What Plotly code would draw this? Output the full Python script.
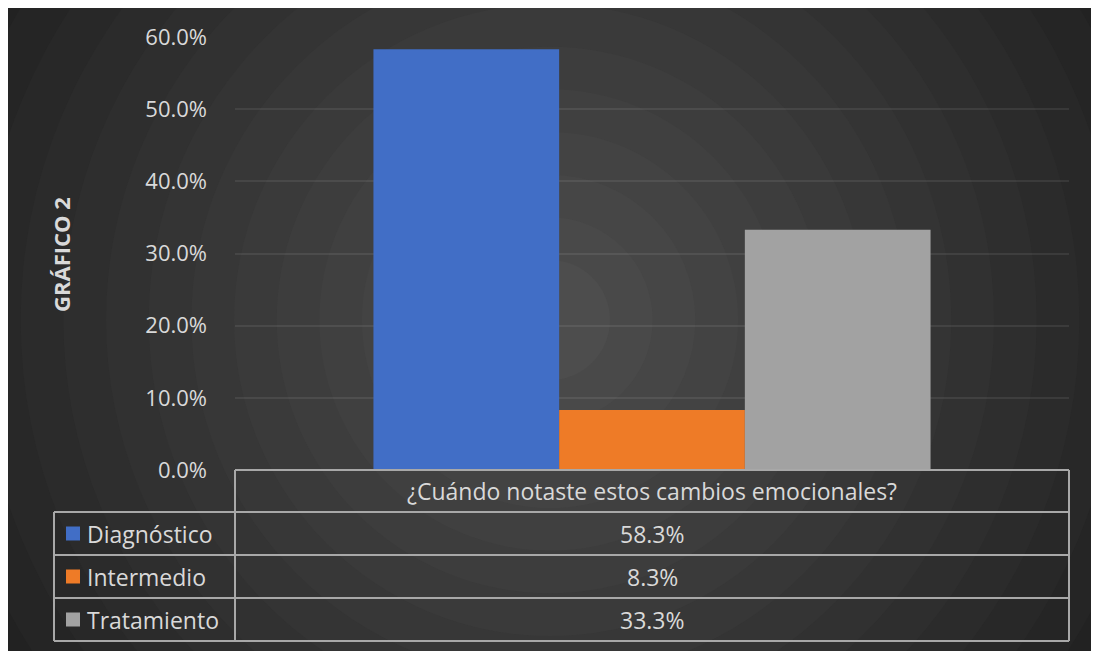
import plotly.graph_objects as go

# ---- data ----
category = ["¿Cuándo notaste estos cambios emocionales?"]
series_names = ["Diagnóstico", "Intermedio", "Tratamiento"]
series_values = [0.583, 0.083, 0.333]
series_colors = ["#416ec6", "#ee7b27", "#a2a2a2"]
y_tick_vals = [0, 0.1, 0.2, 0.3, 0.4, 0.5, 0.6]
chart_title = "GRÁFICO 2"

# page body margin offset (screen px)
OFF = 8
W, H = 1099 - 2 * OFF, 659 - 2 * OFF
# plot area in screen coordinates
SX0, SX1, SY0, SY1 = 235, 1069, 37, 470
L = SX0 - OFF
R = W - (SX1 - OFF)
T = SY0 - OFF
B = H - (SY1 - OFF)
PW, PH = W - L - R, H - T - B


def px(sx):
    return (sx - SX0) / PW


def py(sy):
    return (SY1 - sy) / PH


fig = go.Figure()
for name, val, col in zip(series_names, series_values, series_colors):
    fig.add_trace(go.Bar(x=category, y=[val], name=name,
                         marker=dict(color=col, line=dict(width=0)),
                         showlegend=False))

shapes = []
# background radial-like rings
cx, cy = px(550), py(320)
n = 16
r_max = 700
for i in range(n):
    r = r_max - i * (r_max - 60) / (n - 1)
    t = i / (n - 1)
    v = int(0x1f + (0x4d - 0x1f) * t)
    shapes.append(dict(type="circle", xref="paper", yref="paper",
                       xsizemode="pixel", ysizemode="pixel",
                       xanchor=cx, yanchor=cy,
                       x0=-r, x1=r, y0=-r, y1=r,
                       fillcolor=f"rgb({v},{v},{v})", line=dict(width=0),
                       layer="below"))

# data table lines
lc = "#a8a8a8"
lw = 2
row_tops = [470, 512, 555, 598, 641]
shapes.append(dict(type="line", xref="paper", yref="paper",
                   x0=px(235), x1=px(1069), y0=py(470), y1=py(470),
                   line=dict(color=lc, width=lw), layer="above"))
for yp in row_tops[1:]:
    shapes.append(dict(type="line", xref="paper", yref="paper",
                       x0=px(54), x1=px(1069), y0=py(yp), y1=py(yp),
                       line=dict(color=lc, width=lw), layer="above"))
for xp, ytop in [(235, 470), (1069, 470), (54, 512)]:
    shapes.append(dict(type="line", xref="paper", yref="paper",
                       x0=px(xp), x1=px(xp), y0=py(ytop), y1=py(641),
                       line=dict(color=lc, width=lw), layer="above"))

txt_col = "#d9d9d9"
font_fam = "Open Sans"
tsize = 23
annotations = []
annotations.append(dict(text=category[0], xref="paper", yref="paper",
                        x=px(652), y=py(491), xanchor="center", yanchor="middle",
                        showarrow=False,
                        font=dict(family=font_fam, size=tsize, color=txt_col)))
for i, (name, val, col) in enumerate(zip(series_names, series_values, series_colors)):
    yc = (row_tops[i + 1] + row_tops[i + 2]) / 2
    shapes.append(dict(type="rect", xref="paper", yref="paper",
                       x0=px(66), x1=px(80), y0=py(yc + 7), y1=py(yc - 7),
                       fillcolor=col, line=dict(width=0), layer="above"))
    annotations.append(dict(text=name, xref="paper", yref="paper",
                            x=px(85), y=py(yc), xanchor="left", yanchor="middle",
                            showarrow=False,
                            font=dict(family=font_fam, size=tsize, color=txt_col)))
    annotations.append(dict(text=f"{val*100:.1f}%", xref="paper", yref="paper",
                            x=px(652), y=py(yc), xanchor="center", yanchor="middle",
                            showarrow=False,
                            font=dict(family=font_fam, size=tsize, color=txt_col)))
annotations.append(dict(text=f"<b>{chart_title}</b>", xref="paper", yref="paper",
                        x=px(61), y=py(255), xanchor="center", yanchor="middle",
                        textangle=-90, showarrow=False,
                        font=dict(family=font_fam, size=22, color=txt_col)))

fig.update_layout(
    width=W, height=H,
    margin=dict(l=L, r=R, t=T, b=B, pad=0),
    paper_bgcolor="#262626",
    plot_bgcolor="rgba(0,0,0,0)",
    barmode="group", bargap=0.332, bargroupgap=0,
    shapes=shapes, annotations=annotations,
    xaxis=dict(showticklabels=False, showgrid=False, zeroline=False,
               showline=False, fixedrange=True),
    yaxis=dict(range=[0, 0.6], tickvals=y_tick_vals, tickformat=".1%",
               showgrid=True, gridcolor="rgba(255,255,255,0.08)", gridwidth=2,
               zeroline=False, showline=False, ticks="",
               ticklabelstandoff=27,
               tickfont=dict(family=font_fam, size=22, color=txt_col)),
    font=dict(family=font_fam, color=txt_col),
)

fig.write_html("out.html")
